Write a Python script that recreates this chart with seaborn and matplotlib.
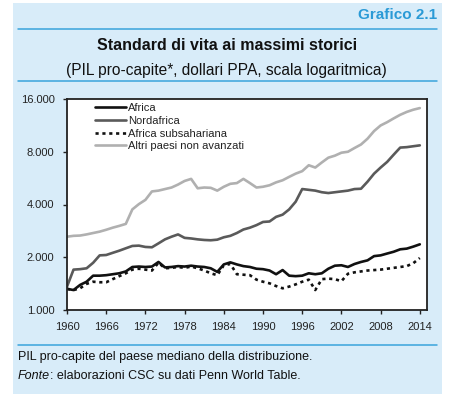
import matplotlib
matplotlib.use("Agg")
import matplotlib.pyplot as plt
import seaborn as sns
import pandas as pd
from matplotlib.patches import Rectangle
from matplotlib.lines import Line2D
from matplotlib.text import Annotation
from matplotlib.ticker import FixedLocator, FixedFormatter, NullLocator

years = list(range(1960, 2015))

africa = [1320, 1300, 1390, 1450, 1570, 1570, 1580, 1600, 1620, 1660,
          1760, 1770, 1760, 1770, 1880, 1750, 1760, 1780, 1770, 1790,
          1770, 1760, 1730, 1650, 1820, 1870, 1820, 1780, 1760, 1720,
          1710, 1680, 1600, 1690, 1570, 1560, 1570, 1620, 1600, 1620,
          1720, 1790, 1800, 1760, 1830, 1880, 1920, 2030, 2050, 2100,
          2150, 2220, 2240, 2300, 2370]

nordafrica = [1360, 1700, 1710, 1730, 1860, 2050, 2060, 2120, 2180, 2250,
              2320, 2330, 2290, 2280, 2400, 2530, 2620, 2700, 2580, 2560,
              2530, 2510, 2500, 2520, 2600, 2650, 2750, 2880, 2950, 3050,
              3180, 3200, 3400, 3500, 3750, 4150, 4900, 4850, 4800, 4700,
              4650, 4700, 4750, 4800, 4900, 4920, 5400, 6000, 6500, 7000,
              7700, 8450, 8500, 8600, 8700]

subsahariana = [1320, 1300, 1330, 1410, 1450, 1440, 1440, 1500, 1560, 1620,
                1700, 1720, 1700, 1680, 1860, 1730, 1740, 1760, 1740, 1770,
                1730, 1680, 1620, 1580, 1800, 1830, 1600, 1590, 1580, 1490,
                1450, 1420, 1370, 1330, 1360, 1400, 1450, 1490, 1300, 1500,
                1510, 1500, 1460, 1610, 1640, 1660, 1680, 1690, 1700, 1720,
                1740, 1760, 1780, 1850, 1980]

altri = [2620, 2650, 2660, 2700, 2750, 2800, 2870, 2950, 3020, 3100,
         3750, 4020, 4250, 4750, 4800, 4900, 5000, 5200, 5450, 5600,
         4950, 5000, 4980, 4800, 5050, 5250, 5300, 5600, 5300, 5000,
         5050, 5150, 5350, 5500, 5750, 6000, 6200, 6700, 6500, 6950,
         7400, 7600, 7900, 8000, 8400, 8800, 9500, 10500, 11300, 11800,
         12400, 13000, 13500, 13900, 14200]

series_names = ["Africa", "Nordafrica", "Africa subsahariana", "Altri paesi non avanzati"]
y_ticks = [1000, 2000, 4000, 8000, 16000]
y_labels = ["1.000", "2.000", "4.000", "8.000", "16.000"]
x_ticks = list(range(1960, 2015, 6))

df = pd.DataFrame({
    "anno": years * 4,
    "valore": africa + nordafrica + subsahariana + altri,
    "serie": sum([[n] * len(years) for n in series_names], []),
})

sns.set_style("ticks")
plt.rcParams['font.family'] = ['Liberation Sans', 'DejaVu Sans']

W, H = 460, 394
fig = plt.figure(figsize=(W / 100, H / 100), dpi=100)
fig.patch.set_facecolor('white')

blue_bg = '#d8ecf9'
blue_line = '#3aa3dc'
fig.patches.append(Rectangle((13 / W, 0), (442 - 13) / W, 1 - 3 / H,
                             transform=fig.transFigure, facecolor=blue_bg,
                             edgecolor='none', zorder=-10))
for yy in (29, 81, 345):
    fig.add_artist(Line2D([18 / W, 437 / W], [1 - yy / H] * 2,
                          color=blue_line, lw=1.1))

fig.text(437 / W, 1 - 15 / H, "Grafico 2.1", ha='right', va='center',
         color='#2a9ad6', fontsize=11, fontweight='bold')
fig.text(227 / W, 1 - 46 / H, "Standard di vita ai massimi storici",
         ha='center', va='center', fontsize=11.5, fontweight='bold', color='#111111')
fig.text(226 / W, 1 - 70 / H, "(PIL pro-capite*, dollari PPA, scala logaritmica)",
         ha='center', va='center', fontsize=11.2, color='#111111')
fig.text(18 / W, 1 - 357 / H, "PIL pro-capite del paese mediano della distribuzione.",
         ha='left', va='center', fontsize=9, color='#111111')
fonte = fig.text(18 / W, 1 - 376 / H, "Fonte", ha='left', va='center', fontsize=9,
                 style='italic', color='#111111')
ann = Annotation(": elaborazioni CSC su dati Penn World Table.", xy=(1, 0.5),
                 xycoords=fonte, ha='left', va='center', fontsize=9,
                 color='#111111', annotation_clip=False)
fig.add_artist(ann)

ax = fig.add_axes([67 / W, 1 - 310 / H, (427 - 67) / W, (310 - 99) / H])
ax.set_facecolor('white')

palette = {"Africa": "#111111", "Nordafrica": "#5a5a5a",
           "Africa subsahariana": "#111111", "Altri paesi non avanzati": "#b0b0b0"}
dashes = {"Africa": "", "Nordafrica": "", "Africa subsahariana": (1.2, 1.4),
          "Altri paesi non avanzati": ""}
sns.lineplot(data=df, x="anno", y="valore", hue="serie", style="serie",
             hue_order=series_names, style_order=series_names,
             palette=palette, dashes=dashes, lw=1.9, ax=ax, legend=True)

ax.set_yscale('log', base=2)
ax.set_ylim(1000, 16000)
ax.set_xlim(1960, 2015.1)
ax.yaxis.set_major_locator(FixedLocator(y_ticks))
ax.yaxis.set_major_formatter(FixedFormatter(y_labels))
ax.yaxis.set_minor_locator(NullLocator())
ax.set_xticks(x_ticks)
ax.set_xticklabels([str(x) for x in x_ticks])
ax.set_xlabel("")
ax.set_ylabel("")
for s in ax.spines.values():
    s.set_visible(True)
    s.set_color('#222222')
    s.set_linewidth(1.3)
ax.tick_params(axis='both', direction='out', length=3, width=1, color='#222222',
               labelsize=8, labelcolor='#222222')
ax.tick_params(axis='x', pad=6)
ax.tick_params(axis='y', pad=6)

leg = ax.legend(loc='upper left', bbox_to_anchor=((95 - 67) / 360, 1 - 4 / 211),
                frameon=False, fontsize=8, handlelength=2.8, handletextpad=0.2,
                labelspacing=0.25, borderpad=0, borderaxespad=0)
for t in leg.get_texts():
    t.set_color('#222222')

fig.savefig("out.png", dpi=100, facecolor=fig.get_facecolor())
